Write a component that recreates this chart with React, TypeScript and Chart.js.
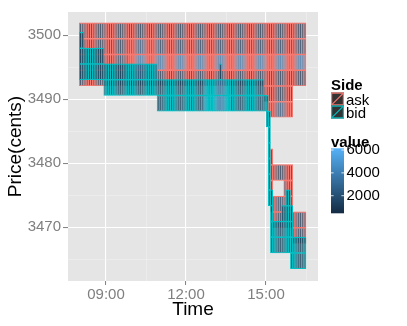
import React, { useEffect, useRef } from 'react';
import { Chart, registerables } from 'chart.js';

Chart.register(...registerables);

// ---- axes ----
const timeTickHours = [9, 12, 15];
const timeTickLabels = ['09:00', '12:00', '15:00'];
const timeMinorHours = [10.5, 13.5, 16.5];
const timeRange = [7.575, 16.95];

const priceTicks = [3470, 3480, 3490, 3500];
const priceMinorTicks = [3465, 3475, 3485, 3495];
const priceRange = [3461.6, 3503.6];

// ---- legends ----
const sideNames = ['ask', 'bid'];
const sideColours = ['#F8766D', '#00BFC4'];
const valueTicks = [2000, 4000, 6000];
const valueRange = [460, 6150];

// ---- tiles: 5-minute buckets, price rows ----
const tileMinutes = 5;
const tileHeight = 2.56;

const askPrices = [
  3500.69, 3498.23, 3495.77, 3493.31, 3490.85, 3488.39, 3485.93,
  3483.47, 3481.01, 3478.55, 3476.09, 3473.63, 3471.17, 3468.71,
];
// per price row: [from, to, value]
const askRuns: [string, string, number][][] = [
  [['08:00', '16:30', 1000]],
  [['08:00', '09:50', 1200], ['09:50', '11:00', 2400], ['11:00', '16:30', 1500]],
  [['08:00', '09:50', 1500], ['09:50', '16:30', 3800]],
  [['08:00', '16:30', 1100]],
  [['14:55', '16:00', 1000]],
  [['15:05', '16:00', 2400]],
  [],
  [],
  [['15:10', '15:15', 1000]],
  [['15:10', '16:00', 1100]],
  [['15:10', '15:15', 1000], ['15:40', '16:00', 1300]],
  [['15:10', '16:00', 1500]],
  [['15:15', '16:30', 1200]],
  [['16:00', '16:30', 1200]],
];

const bidPrices = [
  3499.19, 3496.73, 3494.27, 3491.81, 3489.35, 3486.89, 3484.43, 3481.97,
  3479.51, 3477.05, 3474.59, 3472.13, 3469.67, 3467.21, 3464.75,
];
const bidRuns: [string, string, number][][] = [
  [['08:00', '08:10', 800]],
  [['08:00', '08:55', 1000]],
  [['08:00', '09:45', 1100], ['09:45', '10:55', 2200], ['13:15', '13:20', 1000]],
  [['08:55', '12:40', 1100], ['12:40', '13:40', 3000], ['13:40', '14:55', 1200]],
  [['10:55', '12:40', 1200], ['12:40', '13:40', 3600], ['13:40', '15:05', 1300]],
  [['15:00', '15:10', 1000]],
  [['15:05', '15:10', 1000]],
  [['15:05', '15:10', 1000]],
  [['15:05', '15:10', 1000]],
  [['15:05', '15:10', 1000]],
  [['15:05', '15:15', 1000], ['15:45', '15:55', 1000]],
  [['15:10', '15:15', 1000], ['15:35', '16:00', 1200]],
  [['15:10', '16:00', 1300]],
  [['15:10', '16:30', 1100]],
  [['15:55', '16:30', 1000]],
];

const FONT = '"Liberation Sans", Arial, Helvetica, sans-serif';
const LOW = [19, 43, 67];
const HIGH = [86, 177, 247];

function fillFor(v: number) {
  let t = (v - valueRange[0]) / (valueRange[1] - valueRange[0]);
  t = Math.max(0, Math.min(1, t));
  const c = LOW.map((l, i) => Math.round(l + (HIGH[i] - l) * t));
  return `rgb(${c[0]},${c[1]},${c[2]})`;
}

function slotOf(hhmm: string) {
  const [h, m] = hhmm.split(':').map(Number);
  return Math.round((h * 60 + m) / tileMinutes);
}

function buildTiles(prices: number[], runs: [string, string, number][][]) {
  const out: { x: number; y: [number, number]; v: number }[] = [];
  prices.forEach((p, r) => {
    (runs[r] || []).forEach(([s, e, v]) => {
      for (let k = slotOf(s); k < slotOf(e); k++) {
        out.push({ x: ((k + 0.5) * tileMinutes) / 60, y: [p - tileHeight / 2, p + tileHeight / 2], v });
      }
    });
  });
  return out;
}

const panelPlugin = {
  id: 'panelBg',
  beforeDraw(chart: any) {
    const { ctx, chartArea: a } = chart;
    ctx.save();
    ctx.fillStyle = '#E5E5E5';
    ctx.fillRect(a.left, a.top, a.width, a.height);
    ctx.restore();
  },
};

const legendPlugin = {
  id: 'ggLegend',
  afterDraw(chart: any) {
    const ctx = chart.ctx as CanvasRenderingContext2D;
    ctx.save();
    const lx = 331;
    ctx.fillStyle = '#000';
    ctx.textAlign = 'left';
    ctx.textBaseline = 'alphabetic';
    ctx.font = `bold 15px ${FONT}`;
    ctx.fillText('Side', lx, 90);
    sideNames.forEach((name, i) => {
      const y = 92.5 + i * 13;
      ctx.fillStyle = '#333333';
      ctx.fillRect(lx, y, 13, 13);
      ctx.strokeStyle = sideColours[i];
      ctx.lineWidth = 1.2;
      ctx.strokeRect(lx + 0.6, y + 0.6, 11.8, 11.8);
      ctx.beginPath();
      ctx.moveTo(lx + 0.6, y + 12.4);
      ctx.lineTo(lx + 12.4, y + 0.6);
      ctx.stroke();
      ctx.fillStyle = '#000';
      ctx.font = `15px ${FONT}`;
      ctx.fillText(name, lx + 15, y + 12);
    });
    // colour bar
    const top = 148.3;
    const bot = 213.3;
    const w = 13;
    const grad = ctx.createLinearGradient(0, bot, 0, top);
    for (let i = 0; i <= 10; i++) {
      const v = valueRange[0] + ((valueRange[1] - valueRange[0]) * i) / 10;
      grad.addColorStop(i / 10, fillFor(v));
    }
    ctx.fillStyle = grad;
    ctx.fillRect(lx, top, w, bot - top);
    const yOf = (v: number) => bot - ((v - valueRange[0]) / (valueRange[1] - valueRange[0])) * (bot - top);
    ctx.strokeStyle = 'rgba(255,255,255,0.8)';
    ctx.lineWidth = 1;
    ctx.font = `15px ${FONT}`;
    ctx.textBaseline = 'middle';
    valueTicks.forEach((v) => {
      const y = yOf(v);
      ctx.beginPath();
      ctx.moveTo(lx, y);
      ctx.lineTo(lx + 2.6, y);
      ctx.moveTo(lx + w - 2.6, y);
      ctx.lineTo(lx + w, y);
      ctx.stroke();
      ctx.fillStyle = '#000';
      ctx.fillText(String(v), 346.5, y);
    });
    ctx.textBaseline = 'alphabetic';
    ctx.font = `bold 15px ${FONT}`;
    ctx.fillStyle = '#000';
    ctx.fillText('value', lx, 147);
    ctx.restore();
  },
};

const isIn = (arr: number[], v: number) => arr.some((a) => Math.abs(a - v) < 1e-6);

export default function App() {
  const ref = useRef<HTMLCanvasElement>(null);
  useEffect(() => {
    if (!ref.current) return;
    const common = {
      borderWidth: { top: 1.2, bottom: 0.9, left: 1.15, right: 1.0 },
      borderSkipped: false,
      inflateAmount: 0,
      grouped: false,
      barPercentage: 1.3,
      categoryPercentage: 1,
      backgroundColor: (c: any) => (c.raw ? fillFor(c.raw.v) : fillFor(1000)),
    };
    const chart = new Chart(ref.current, {
      type: 'bar',
      data: {
        datasets: [
          { label: 'bid', data: buildTiles(bidPrices, bidRuns) as any, borderColor: sideColours[1], ...common } as any,
          { label: 'ask', data: buildTiles(askPrices, askRuns) as any, borderColor: sideColours[0], ...common } as any,
        ],
      },
      options: {
        responsive: false,
        animation: false,
        events: [],
        layout: { padding: { left: 0, top: 12, right: 89, bottom: 0 } },
        plugins: { legend: { display: false }, tooltip: { enabled: false } },
        scales: {
          x: {
            type: 'linear',
            min: timeRange[0],
            max: timeRange[1],
            offset: false,
            afterBuildTicks: (s: any) => {
              s.ticks = [...timeTickHours, ...timeMinorHours].sort((a, b) => a - b).map((v) => ({ value: v }));
            },
            afterFit: (s: any) => {
              s.height = 45;
            },
            ticks: {
              autoSkip: false,
              maxRotation: 0,
              color: '#7F7F7F',
              padding: 1,
              font: { family: FONT, size: 15 },
              callback: (v: any) => {
                const i = timeTickHours.findIndex((h) => Math.abs(h - v) < 1e-6);
                return i >= 0 ? timeTickLabels[i] : '';
              },
            },
            grid: {
              offset: false,
              color: (c: any) => (isIn(timeTickHours, c.tick?.value) ? '#FFFFFF' : '#F2F2F2'),
              lineWidth: (c: any) => (isIn(timeTickHours, c.tick?.value) ? 1.1 : 0.55),
              tickColor: (c: any) => (isIn(timeTickHours, c.tick?.value) ? '#7F7F7F' : 'rgba(0,0,0,0)'),
              tickLength: 4,
              tickWidth: 1,
            },
            border: { display: false },
            title: { display: true, text: 'Time', color: '#000', font: { family: FONT, size: 19 }, padding: { top: 0, bottom: 5 } },
          },
          y: {
            type: 'linear',
            min: priceRange[0],
            max: priceRange[1],
            afterBuildTicks: (s: any) => {
              s.ticks = [...priceTicks, ...priceMinorTicks].sort((a, b) => a - b).map((v) => ({ value: v }));
            },
            afterFit: (s: any) => {
              s.width = 68;
            },
            ticks: {
              autoSkip: false,
              color: '#7F7F7F',
              padding: 2,
              font: { family: FONT, size: 15 },
              callback: (v: any) => (isIn(priceTicks, v) ? String(v) : ''),
            },
            grid: {
              color: (c: any) => (isIn(priceTicks, c.tick?.value) ? '#FFFFFF' : '#F2F2F2'),
              lineWidth: (c: any) => (isIn(priceTicks, c.tick?.value) ? 1.1 : 0.55),
              tickColor: (c: any) => (isIn(priceTicks, c.tick?.value) ? '#7F7F7F' : 'rgba(0,0,0,0)'),
              tickLength: 5,
              tickWidth: 1,
            },
            border: { display: false },
            title: { display: true, text: 'Price(cents)', color: '#000', font: { family: FONT, size: 19 }, padding: { top: 4, bottom: 0 } },
          },
        },
      } as any,
      plugins: [panelPlugin, legendPlugin],
    });
    return () => chart.destroy();
  }, []);
  return (
    <div style={{ position: 'fixed', left: 0, top: 0, width: 407, height: 326, background: '#fff' }}>
      <canvas ref={ref} width={407} height={326} style={{ width: 407, height: 326, display: 'block' }} />
    </div>
  );
}
